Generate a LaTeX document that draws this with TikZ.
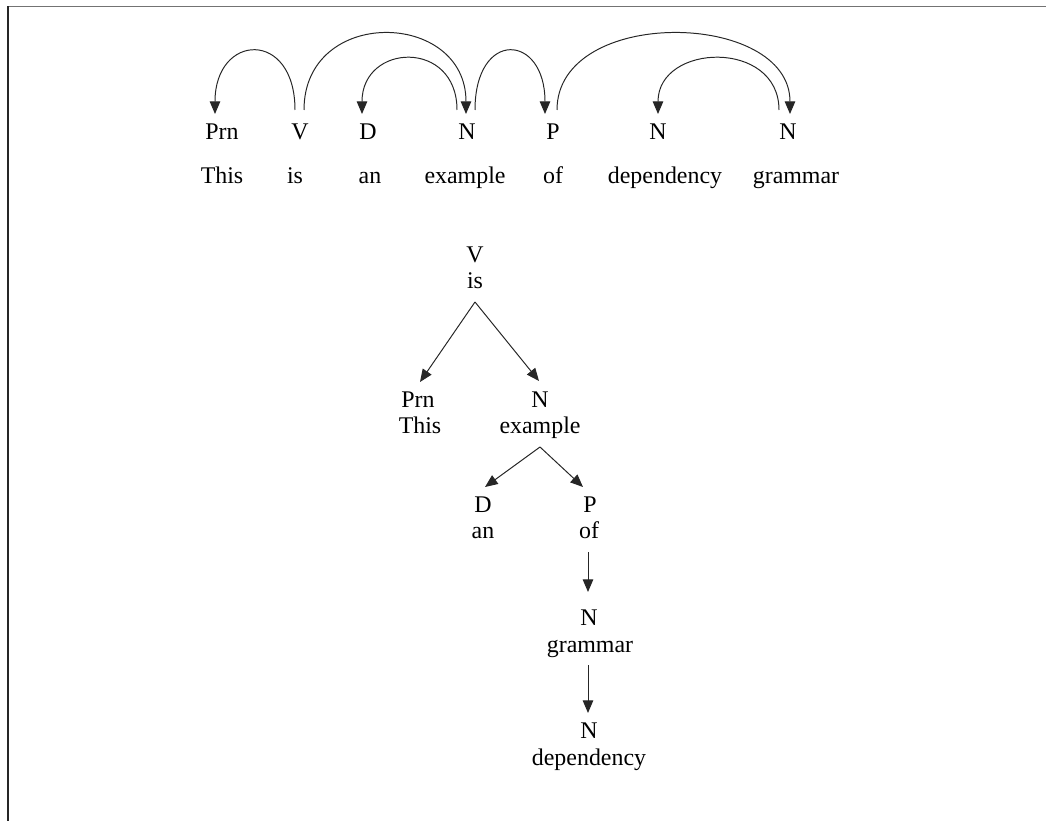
\documentclass[tikz,border=0pt]{standalone}
\usepackage{fontspec}
\setmainfont{Liberation Serif}
\usetikzlibrary{arrows.meta,calc}

\tikzset{
  tag/.style={anchor=base, inner sep=0pt, font=\fontsize{17}{19}\selectfont},
  word/.style={tag},
  dep/.style={-{Triangle[length=9pt,width=7.5pt]}, line width=0.7pt, black!85},
}

\begin{document}
\begin{tikzpicture}[x=0.025cm, y=-0.025cm]
    \useasboundingbox (0,0) rectangle (1046,821);

    % Frame (top and left edge only)
    \draw[black!55, line width=1.4pt] (8,6.5) -- (1046,6.5);
    \draw[black!85, line width=1.4pt] (8,6.5) -- (8,821);

    % Sentence - tags
    \node[tag] (tPrn) at (222,139) {Prn};
    \node[tag] (tV)   at (300,139) {V};
    \node[tag] (tD)   at (368,139) {D};
    \node[tag] (tN1)  at (467,139) {N};
    \node[tag] (tP)   at (553,139) {P};
    \node[tag] (tN2)  at (658,139) {N};
    \node[tag] (tN3)  at (788,139) {N};

    % Sentence - words
    \node[word] (wThis)       at (222,183) {This};
    \node[word] (wIs)         at (295,183) {is};
    \node[word] (wAn)         at (370,183) {an};
    \node[word] (wExample)    at (465,183) {example};
    \node[word] (wOf)         at (553,183) {of};
    \node[word] (wDependency) at (665,183) {dependency};
    \node[word] (wGrammar)    at (796,183) {grammar};

    % Arcs
    \draw[dep] ($(tV.base)+(-5,-29)$) .. controls +(0,-81) and +(0,-81) .. ($(tPrn.base)+(-7,-25)$);
    \draw[dep] ($(tV.base)+(4,-29)$) .. controls +(0,-104) and +(0,-104) .. ($(tN1.base)+(-1,-25)$);
    \draw[dep] ($(tN1.base)+(-10,-29)$) .. controls +(0,-71) and +(0,-71) .. ($(tD.base)+(-6,-25)$);
    \draw[dep] ($(tN1.base)+(8,-29)$) .. controls +(0,-81) and +(0,-81) .. ($(tP.base)+(-8,-25)$);
    \draw[dep] ($(tP.base)+(4,-29)$) .. controls +(0,-104) and +(0,-104) .. ($(tN3.base)+(2,-25)$);
    \draw[dep] ($(tN3.base)+(-9,-29)$) .. controls +(0,-71) and +(0,-71) .. ($(tN2.base)+(0,-25)$);

    % Tree
    \node[tag]  (rV)          at (475,262) {V};
    \node[word] (rIs)         at (475,288) {is};
    \node[tag]  (rPrn)        at (418,407) {Prn};
    \node[word] (rThis)       at (420,433) {This};
    \node[tag]  (rN1)         at (540,407) {N};
    \node[word] (rExample)    at (540,433) {example};
    \node[tag]  (rD)          at (483,512) {D};
    \node[word] (rAn)         at (483,538) {an};
    \node[tag]  (rP)          at (590,512) {P};
    \node[word] (rOf)         at (589,538) {of};
    \node[tag]  (rN2)         at (589,625) {N};
    \node[word] (rGrammar)    at (590,652) {grammar};
    \node[tag]  (rN3)         at (589,738) {N};
    \node[word] (rDependency) at (589,765) {dependency};

    % Tree arrows
    \draw[dep] ($(rIs.base)+(0,14)$) -- ($(rPrn.base)+(2,-25)$);
    \draw[dep] ($(rIs.base)+(0,14)$) -- ($(rN1.base)+(-1,-26)$);
    \draw[dep] ($(rExample.base)+(0,14)$) -- ($(rD.base)+(2,-25)$);
    \draw[dep] ($(rExample.base)+(0,14)$) -- ($(rP.base)+(-7,-25)$);
    \draw[dep] ($(rOf.base)+(-1,14)$) -- ($(rN2.base)+(-1,-33)$);
    \draw[dep] ($(rGrammar.base)+(-2,13)$) -- ($(rN3.base)+(-1,-25)$);
\end{tikzpicture}
\end{document}
